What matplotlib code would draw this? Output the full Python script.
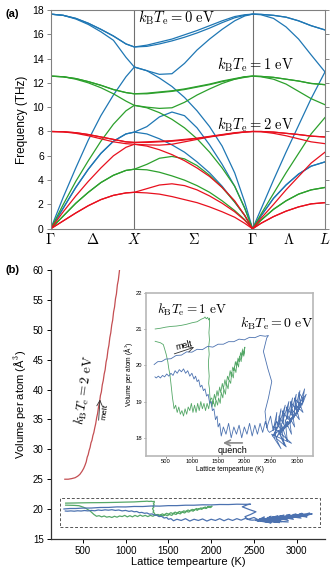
import numpy as np
import matplotlib
matplotlib.use("Agg")
import matplotlib.pyplot as plt
from matplotlib.patches import Rectangle

plt.rcParams['font.family'] = ['Liberation Sans', 'DejaVu Sans']
plt.rcParams['mathtext.fontset'] = 'cm'

# ---------------- panel (a): phonon dispersion ----------------
kpts = [0, 0.15, 0.3, 0.45, 0.6, 0.75, 0.9, 1.0,
        1.15, 1.3, 1.45, 1.6, 1.75, 1.9, 2.05, 2.2, 2.32, 2.414,
        2.514, 2.664, 2.814, 2.964, 3.114, 3.28]
k_ticks = [0, 0.5, 1.0, 1.707, 2.414, 2.847, 3.28]
k_labels = [r'$\Gamma$', r'$\Delta$', r'$X$', r'$\Sigma$', r'$\Gamma$', r'$\Lambda$', r'$L$']
k_lines = [1.0, 2.414]

bands_0eV = [
    [17.65, 17.55, 17.3, 16.9, 16.4, 15.85, 15.2, 14.95, 15.1, 15.35, 15.6, 15.95, 16.3, 16.7, 17.1, 17.45, 17.6, 17.65, 17.63, 17.55, 17.4, 17.1, 16.7, 16.35],
    [17.65, 17.55, 17.3, 16.9, 16.4, 15.85, 15.2, 14.95, 15.0, 15.2, 15.45, 15.75, 16.1, 16.5, 16.95, 17.35, 17.55, 17.65, 17.63, 17.55, 17.4, 17.1, 16.7, 16.35],
    [17.65, 17.55, 17.25, 16.8, 16.2, 15.5, 14.1, 13.3, 13.0, 12.7, 12.75, 13.6, 14.7, 15.6, 16.4, 17.1, 17.5, 17.65, 17.6, 17.3, 16.6, 15.6, 14.3, 12.9],
    [0, 2.6, 5.0, 7.3, 9.3, 11.0, 12.5, 13.3, 13.0, 12.4, 11.7, 10.8, 9.7, 8.4, 6.8, 4.6, 2.2, 0, 1.6, 4.0, 6.3, 8.5, 10.7, 12.9],
    [0, 1.7, 3.4, 4.9, 6.2, 7.2, 7.8, 7.95, 8.4, 9.2, 9.6, 9.3, 8.3, 6.9, 5.3, 3.5, 1.7, 0, 1.05, 2.5, 3.6, 4.5, 5.15, 5.5],
    [0, 1.7, 3.4, 4.9, 6.2, 7.2, 7.8, 7.95, 7.8, 7.4, 6.9, 6.3, 5.5, 4.6, 3.5, 2.2, 1.1, 0, 1.05, 2.5, 3.6, 4.5, 5.15, 5.5],
]
bands_1eV = [
    [12.55, 12.5, 12.35, 12.1, 11.8, 11.45, 11.2, 11.1, 11.15, 11.25, 11.35, 11.5, 11.7, 11.9, 12.15, 12.35, 12.5, 12.55, 12.53, 12.45, 12.3, 12.15, 11.95, 11.85],
    [12.55, 12.5, 12.35, 12.1, 11.8, 11.45, 11.2, 11.1, 11.1, 11.2, 11.3, 11.45, 11.65, 11.85, 12.1, 12.3, 12.45, 12.55, 12.53, 12.45, 12.3, 12.15, 11.95, 11.85],
    [12.55, 12.5, 12.3, 12.0, 11.6, 11.1, 10.5, 10.15, 10.0, 9.9, 9.95, 10.4, 11.0, 11.5, 11.95, 12.3, 12.5, 12.55, 12.5, 12.3, 11.9, 11.3, 10.7, 10.2],
    [0, 2.0, 3.9, 5.6, 7.2, 8.6, 9.7, 10.15, 9.95, 9.55, 9.0, 8.3, 7.4, 6.3, 5.0, 3.5, 1.7, 0, 1.2, 2.9, 4.6, 6.2, 7.8, 9.15],
    [0, 1.05, 2.1, 3.0, 3.8, 4.4, 4.8, 4.9, 5.3, 5.8, 5.95, 5.75, 5.2, 4.4, 3.4, 2.2, 1.1, 0, 0.7, 1.6, 2.3, 2.85, 3.2, 3.4],
    [0, 1.05, 2.1, 3.0, 3.8, 4.4, 4.8, 4.9, 4.85, 4.65, 4.35, 4.0, 3.55, 3.0, 2.3, 1.5, 0.75, 0, 0.7, 1.6, 2.3, 2.85, 3.2, 3.4],
]
bands_2eV = [
    [8.0, 7.98, 7.9, 7.75, 7.55, 7.35, 7.15, 7.1, 7.15, 7.2, 7.25, 7.35, 7.45, 7.6, 7.75, 7.9, 7.97, 8.0, 8.0, 7.95, 7.85, 7.75, 7.62, 7.55],
    [8.0, 7.98, 7.9, 7.75, 7.55, 7.35, 7.15, 7.1, 7.1, 7.15, 7.2, 7.3, 7.42, 7.57, 7.72, 7.87, 7.96, 8.0, 8.0, 7.95, 7.85, 7.75, 7.62, 7.55],
    [8.0, 7.97, 7.85, 7.65, 7.4, 7.15, 7.0, 6.95, 6.9, 6.88, 6.95, 7.15, 7.35, 7.55, 7.7, 7.85, 7.95, 8.0, 7.98, 7.85, 7.65, 7.4, 7.15, 7.0],
    [0, 1.4, 2.7, 3.9, 5.0, 6.0, 6.7, 6.95, 6.8, 6.5, 6.1, 5.6, 5.0, 4.3, 3.4, 2.3, 1.1, 0, 0.85, 2.0, 3.2, 4.3, 5.4, 6.3],
    [0, 0.65, 1.3, 1.9, 2.4, 2.75, 2.95, 3.0, 3.3, 3.6, 3.7, 3.55, 3.2, 2.7, 2.1, 1.4, 0.7, 0, 0.45, 1.0, 1.45, 1.8, 2.05, 2.15],
    [0, 0.65, 1.3, 1.9, 2.4, 2.75, 2.95, 3.0, 2.95, 2.85, 2.65, 2.4, 2.15, 1.8, 1.4, 0.95, 0.45, 0, 0.45, 1.0, 1.45, 1.8, 2.05, 2.15],
]

# ---------------- panel (b): MD trajectories ----------------
T_2eV = [290, 330, 370, 410, 440, 465, 490, 510, 525, 540, 552, 563, 574, 585, 596, 607, 618, 629, 640, 651,
         662, 673, 684, 695, 706, 717, 728, 739, 750, 761, 772, 783, 794, 805, 816, 827, 838, 849, 860, 871,
         882, 893, 904, 915, 926, 937]
V_2eV = [25.0, 25.0, 25.1, 25.25, 25.5, 25.8, 26.3, 26.8, 27.3, 27.9, 28.7, 29.1, 29.8, 30.3, 31.1, 31.5, 32.3, 32.8, 33.6, 34.3,
         35.3, 36.0, 37.1, 37.8, 39.0, 39.6, 40.8, 41.5, 42.6, 43.3, 44.6, 45.3, 46.6, 47.4, 48.7, 49.5, 50.8, 51.6, 53.0, 53.8,
         55.2, 56.0, 57.5, 58.3, 59.6, 61.0]

T_1eV = [300, 400, 500, 600, 700, 800, 900, 1000, 1100, 1180, 1230, 1250, 1275, 1300, 1320, 1335,
         1335, 1325, 1335, 1320, 1330, 1315, 1320, 1330, 1320, 1335, 1340, 1350,
         1380, 1400, 1430, 1450, 1480, 1500, 1530, 1550, 1580, 1600, 1630, 1650, 1680, 1700, 1730, 1750,
         1780, 1800, 1830, 1850, 1880, 1900, 1930, 1950, 1970, 1990, 2010,
         1990, 1960, 1940, 1910, 1890, 1860, 1840, 1810, 1790, 1760, 1740, 1710, 1690, 1660, 1640, 1610,
         1590, 1560, 1540, 1510, 1490, 1460, 1440, 1410,
         1380, 1350, 1320, 1290, 1260, 1230, 1200, 1170, 1140, 1110, 1080, 1050, 1020, 990, 960, 930,
         900, 870, 840, 810, 780, 750, 720, 690, 660, 646,
         630, 615, 600, 580, 560, 540, 510, 480, 455, 400, 350, 300]
V_1eV = [21.0, 21.02, 21.05, 21.07, 21.08, 21.1, 21.13, 21.17, 21.2, 21.27, 21.3, 21.33, 21.28, 21.32, 21.25, 21.3,
         21.1, 20.9, 20.7, 20.5, 20.3, 20.1, 19.9, 19.7, 19.5, 19.35, 19.2, 19.05,
         19.1, 18.95, 19.2, 19.05, 19.3, 19.15, 19.4, 19.25, 19.5, 19.35, 19.6, 19.45, 19.7, 19.6, 19.85, 19.7,
         19.95, 19.85, 20.1, 19.95, 20.2, 20.1, 20.35, 20.2, 20.45, 20.3, 20.5,
         20.25, 20.4, 20.1, 20.25, 19.95, 20.1, 19.8, 19.95, 19.65, 19.8, 19.5, 19.6, 19.35, 19.5, 19.2, 19.35,
         19.1, 19.25, 18.95, 19.1, 18.9, 19.05, 18.85, 19.0,
         18.85, 19.05, 18.8, 18.95, 18.75, 18.95, 18.8, 19.0, 18.75, 18.95, 18.7, 18.9, 18.7, 18.95, 18.75, 18.85,
         18.65, 18.8, 18.6, 18.75, 18.65, 18.85, 18.7, 18.9, 18.8, 18.95,
         19.1, 19.3, 19.5, 19.75, 19.9, 20.1, 20.3, 20.45, 20.57, 20.62, 20.64, 20.66]

T_0eV = [280, 350, 420, 500, 600, 700, 800, 900, 1000, 1100, 1200, 1300, 1400, 1500, 1600, 1700, 1800,
         1900, 2000, 2100, 2200, 2300, 2400, 2460,
         2427, 2395, 2364, 2450, 2523, 2460, 2395, 2427,
         2500, 2550, 2620, 2580, 2700, 2650, 2780, 2720, 2850, 2800, 2920, 2870, 2990, 2950, 3060, 3020,
         3150, 3100, 3180, 3050, 3120, 2980, 3050, 2900, 2960, 2850, 2900, 2780, 2820, 2700, 2760, 2650,
         2800, 2600, 2700, 2520, 2900, 2560,
         2620, 2700, 2660, 2760, 2720, 2840, 2800, 2920, 2880, 3000, 2960, 3080, 3040, 3130, 3000, 3090,
         2940, 3030, 2870, 2960, 2810, 2900, 2740, 2830, 2680, 2770, 2610, 2700, 2540, 2640, 2480,
         2450, 2400, 2350, 2300, 2250, 2200, 2150, 2100, 2050, 2000, 1950, 1900, 1850, 1800, 1750, 1700,
         1650, 1600, 1560, 1530, 1500,
         1480, 1450, 1420, 1390, 1370, 1340, 1310, 1280, 1250, 1220, 1190, 1160, 1130, 1100, 1070, 1040,
         1000, 960, 920, 880, 840, 800, 760, 720, 680, 640, 600, 560, 520, 480, 440, 400, 360, 320, 296]
V_0eV = [20.02, 20.1, 20.1, 20.17, 20.18, 20.27, 20.28, 20.37, 20.36, 20.44, 20.43, 20.52, 20.5, 20.58, 20.58, 20.65, 20.65,
         20.72, 20.7, 20.77, 20.76, 20.82, 20.8, 20.82,
         20.75, 20.56, 20.38, 19.9, 19.55, 19.1, 18.73, 18.27,
         18.6, 18.2, 18.7, 18.0, 18.8, 18.3, 18.9, 18.4, 19.0, 18.5, 19.1, 18.6, 19.2, 18.7, 19.3, 18.8,
         19.35, 18.9, 19.2, 18.95, 18.7, 18.9, 18.5, 18.8, 18.3, 18.6, 18.1, 18.5, 17.9, 18.4, 17.8, 18.2,
         17.75, 18.0, 17.7, 18.1, 17.85, 18.3,
         18.45, 18.2, 18.6, 18.35, 18.75, 18.5, 18.85, 18.6, 19.0, 18.75, 19.1, 18.85, 19.25, 19.05, 18.65, 18.95,
         18.55, 18.8, 18.4, 18.7, 18.3, 18.55, 18.2, 18.45, 18.1, 18.35, 18.0, 18.25, 18.05, 18.3, 18.15,
         18.2, 18.45, 18.15, 18.4, 18.1, 18.35, 18.05, 18.4, 18.1, 18.3, 18.0, 18.35, 18.1, 18.3, 18.0, 18.4,
         18.1, 18.3, 18.05, 18.4, 18.3,
         18.6, 18.5, 18.8, 18.75, 19.0, 18.95, 19.2, 19.15, 19.35, 19.3, 19.45, 19.4, 19.6, 19.55, 19.7, 19.62,
         19.78, 19.7, 19.85, 19.78, 19.9, 19.82, 19.88, 19.78, 19.85, 19.72, 19.78, 19.7, 19.76, 19.68, 19.72, 19.65, 19.7, 19.65, 19.68]

box_T = (235, 3270)
box_V = (17.0, 21.8)

c_a = {'0': '#1f77b4', '1': '#2ca02c', '2': '#e8101e'}
c_b = {'0': '#4c72b0', '1': '#55a868', '2': '#c44e52'}
label = r'$k_{\rm B}T_{\rm e} = %s\ {\rm eV}$'

fig = plt.figure(figsize=(3.32, 5.74), dpi=100)

# ---- (a)
ax = fig.add_axes([0.1527, 0.6014, 0.8262, 0.3814])
for bands, key in [(bands_0eV, '0'), (bands_1eV, '1'), (bands_2eV, '2')]:
    for b in bands:
        ax.plot(kpts, b, color=c_a[key], lw=0.9)
for kl in k_lines:
    ax.axvline(kl, color='#707070', lw=0.8, zorder=0)
ax.set_xlim(0, 3.28)
ax.set_ylim(0, 18)
ax.set_yticks(range(0, 19, 2))
ax.set_xticks(k_ticks)
ax.set_xticklabels(k_labels, fontsize=10.5)
ax.tick_params(axis='x', length=0, pad=2)
ax.tick_params(axis='y', labelsize=7.5, length=3, width=0.6, color='#707070', pad=2,
               right=True, direction='out')
for s in ax.spines.values():
    s.set_color('#808080')
    s.set_linewidth(0.8)
ax.set_ylabel('Frequency (THz)', fontsize=8.5, labelpad=3)
ax.text(1.044, 17.33, label % '0', fontsize=10.5, va='center', ha='left')
ax.text(1.983, 13.47, label % '1', fontsize=10.5, va='center', ha='left')
ax.text(1.983, 8.53, label % '2', fontsize=10.5, va='center', ha='left')
fig.text(0.018, 0.976, '(a)', fontsize=8, fontweight='bold', va='center')

# ---- (b)
bx = fig.add_axes([0.1527, 0.061, 0.8262, 0.4686])
bx.plot(T_2eV, V_2eV, color=c_b['2'], lw=0.9)
bx.plot(T_1eV, V_1eV, color=c_b['1'], lw=0.9)
bx.plot(T_0eV, V_0eV, color=c_b['0'], lw=0.9)
bx.add_patch(Rectangle((box_T[0], box_V[0]), box_T[1] - box_T[0], box_V[1] - box_V[0],
                       fill=False, ls=(0, (3, 2)), lw=0.7, ec='#555555'))
bx.set_xlim(125, 3330)
bx.set_ylim(15, 60)
bx.set_xticks(range(500, 3001, 500))
bx.set_yticks(range(15, 61, 5))
bx.spines['top'].set_visible(False)
bx.spines['right'].set_visible(False)
for s in ['left', 'bottom']:
    bx.spines[s].set_color('#333333')
    bx.spines[s].set_linewidth(0.9)
bx.tick_params(labelsize=7, length=3, width=0.7, pad=2)
bx.set_xlabel('Lattice tempearture (K)', fontsize=8, labelpad=1)
bx.set_ylabel(r'Volume per atom (Å$^3$)', fontsize=8, labelpad=3)
bx.text(527, 39.9, label % '2', fontsize=9.5, rotation=82, ha='center', va='center')
bx.annotate('', xy=(703, 38.8), xytext=(683, 34.4),
            arrowprops=dict(arrowstyle='->', color='#333333', lw=0.6))
bx.text(765, 36.2, 'melt', fontsize=6, rotation=82, ha='center', va='center')
fig.text(0.018, 0.5296, '(b)', fontsize=8, fontweight='bold', va='center')

# ---- inset
ix = fig.add_axes([0.4398, 0.2056, 0.503, 0.2845])
ix.plot(T_1eV, V_1eV, color=c_b['1'], lw=0.6)
ix.plot(T_0eV, V_0eV, color=c_b['0'], lw=0.6)
ix.set_xlim(125, 3310)
ix.set_ylim(17.5, 22)
ix.set_xticks(range(500, 3001, 500))
ix.set_yticks(range(18, 23))
for s in ix.spines.values():
    s.set_color('#b8b8b8')
    s.set_linewidth(1.2)
ix.tick_params(labelsize=4.2, length=1.5, width=0.5, pad=1, color='#555555')
ix.set_xlabel('Lattice tempearture (K)', fontsize=4.8, labelpad=1)
ix.set_ylabel(r'Volume per atom (Å$^3$)', fontsize=4.8, labelpad=1)
ix.text(334, 21.52, label % '1', fontsize=9.5, ha='left', va='center')
ix.text(1920, 21.14, label % '0', fontsize=10, ha='left', va='center')
ix.annotate('', xy=(1092, 20.52), xytext=(614, 20.29),
            arrowprops=dict(arrowstyle='->', color='#333333', lw=0.6))
ix.text(850, 20.55, 'melt', fontsize=6.5, rotation=14, ha='center', va='center')
ix.annotate('', xy=(1540, 17.86), xytext=(2015, 17.86),
            arrowprops=dict(arrowstyle='->', color='#888888', lw=1.2))
ix.text(1780, 17.66, 'quench', fontsize=6.5, ha='center', va='center')

fig.savefig('out.png', dpi=100)
